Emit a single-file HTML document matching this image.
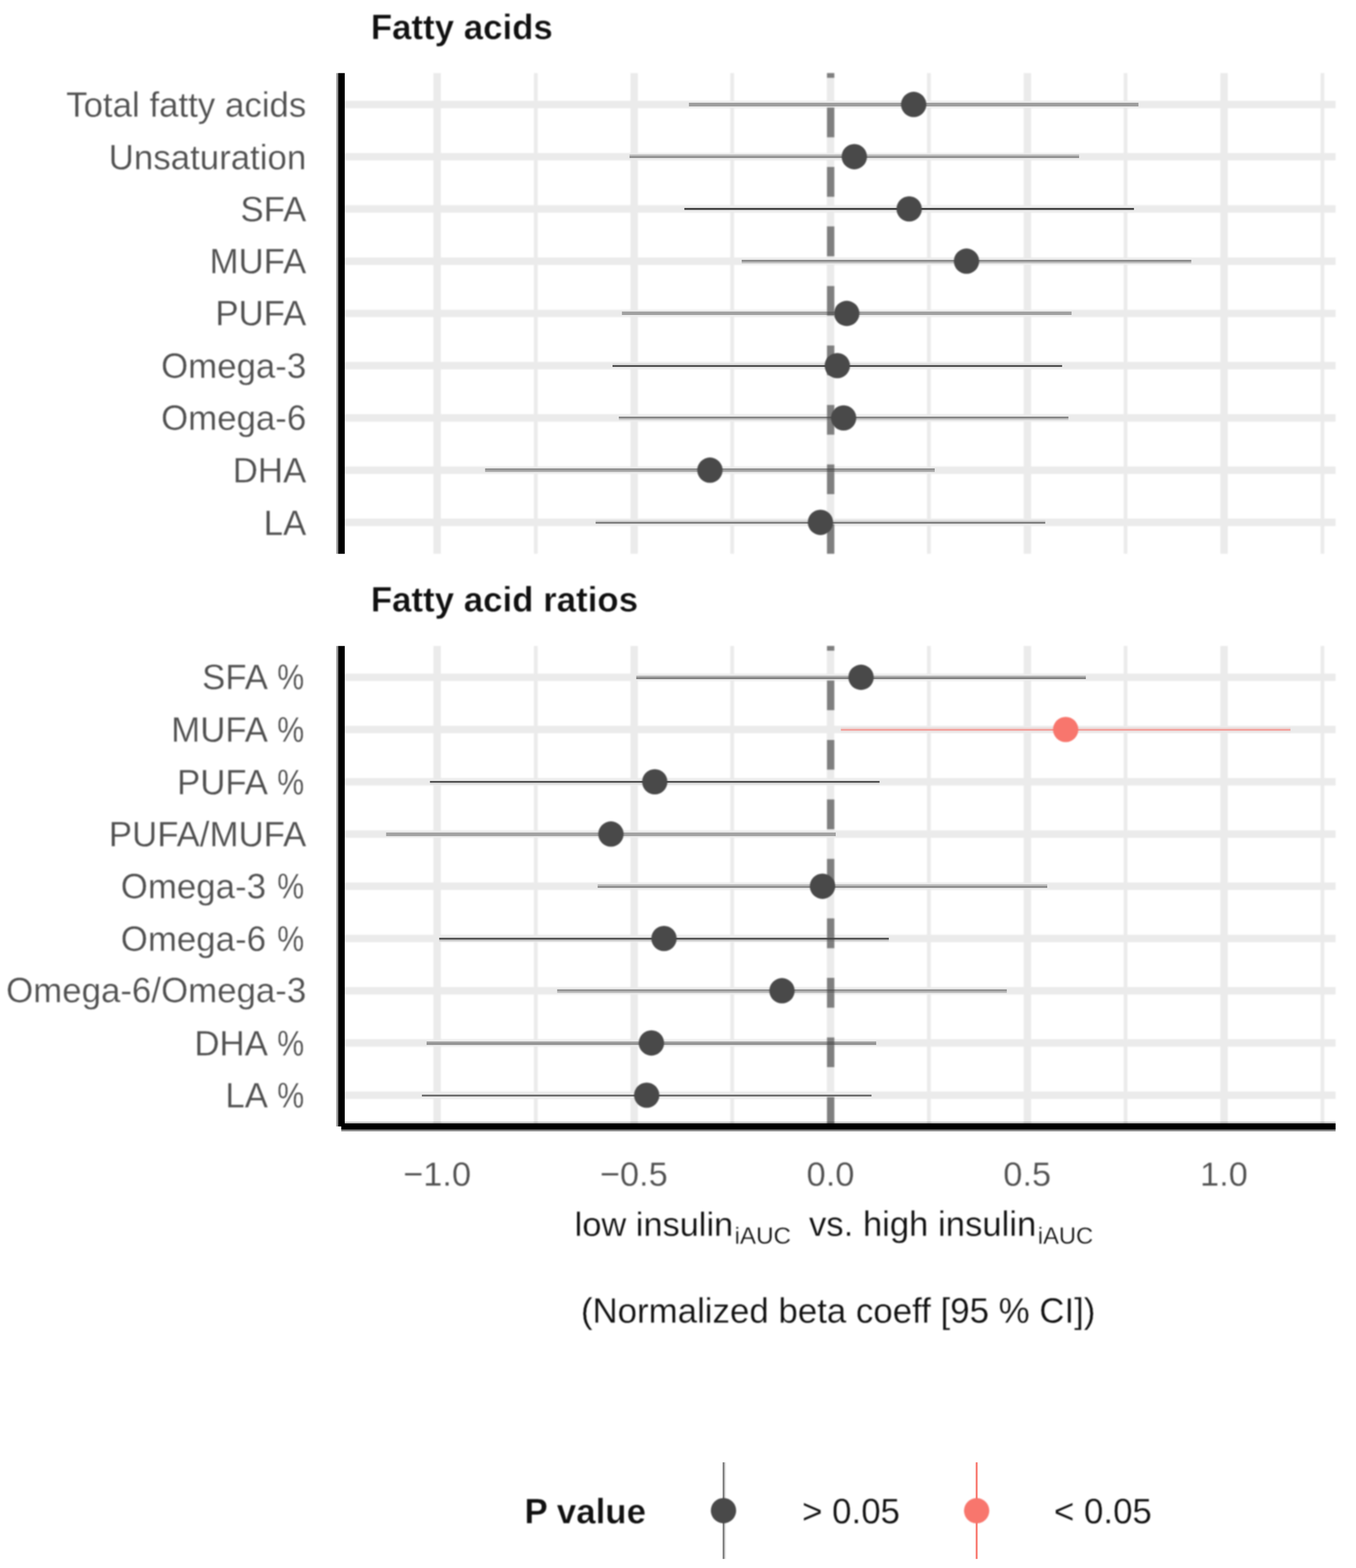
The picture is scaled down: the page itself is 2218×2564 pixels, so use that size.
<!DOCTYPE html>
<html lang="en"><head><meta charset="utf-8"><title>Fatty acids forest plot</title>
<style>html,body{margin:0;padding:0;background:#fff}body{width:2218px;height:2564px;overflow:hidden}svg{display:block}.soft{filter:blur(0.85px)}text{font-family:"Liberation Sans",sans-serif;white-space:pre;stroke:#fff;stroke-width:0.35;paint-order:fill stroke;stroke-linejoin:round}text[font-weight=bold]{stroke-width:0.5}</style>
</head><body>
<svg width="2218" height="2564" viewBox="0 0 2218 2564">
<rect width="2218" height="2564" fill="#fff"/>
<g class="soft">
<line x1="876.38" y1="119.5" x2="876.38" y2="905.4" stroke="#ebebeb" stroke-width="6.1"/>
<line x1="1197.62" y1="119.5" x2="1197.62" y2="905.4" stroke="#ebebeb" stroke-width="6.1"/>
<line x1="1519.38" y1="119.5" x2="1519.38" y2="905.4" stroke="#ebebeb" stroke-width="6.1"/>
<line x1="1841.12" y1="119.5" x2="1841.12" y2="905.4" stroke="#ebebeb" stroke-width="6.1"/>
<line x1="2163.18" y1="119.5" x2="2163.18" y2="905.4" stroke="#ebebeb" stroke-width="6.1"/>
<line x1="715" y1="119.5" x2="715" y2="905.4" stroke="#ebebeb" stroke-width="12.2"/>
<line x1="1037.25" y1="119.5" x2="1037.25" y2="905.4" stroke="#ebebeb" stroke-width="12.2"/>
<line x1="1358.5" y1="119.5" x2="1358.5" y2="905.4" stroke="#ebebeb" stroke-width="12.2"/>
<line x1="1680.55" y1="119.5" x2="1680.55" y2="905.4" stroke="#ebebeb" stroke-width="12.2"/>
<line x1="2002.2" y1="119.5" x2="2002.2" y2="905.4" stroke="#ebebeb" stroke-width="12.2"/>
<line x1="557.9" y1="170.8" x2="2184.7" y2="170.8" stroke="#ebebeb" stroke-width="12.2"/>
<line x1="557.9" y1="256.23" x2="2184.7" y2="256.23" stroke="#ebebeb" stroke-width="12.2"/>
<line x1="557.9" y1="341.65" x2="2184.7" y2="341.65" stroke="#ebebeb" stroke-width="12.2"/>
<line x1="557.9" y1="427.07" x2="2184.7" y2="427.07" stroke="#ebebeb" stroke-width="12.2"/>
<line x1="557.9" y1="512.5" x2="2184.7" y2="512.5" stroke="#ebebeb" stroke-width="12.2"/>
<line x1="557.9" y1="597.92" x2="2184.7" y2="597.92" stroke="#ebebeb" stroke-width="12.2"/>
<line x1="557.9" y1="683.35" x2="2184.7" y2="683.35" stroke="#ebebeb" stroke-width="12.2"/>
<line x1="557.9" y1="768.78" x2="2184.7" y2="768.78" stroke="#ebebeb" stroke-width="12.2"/>
<line x1="557.9" y1="854.2" x2="2184.7" y2="854.2" stroke="#ebebeb" stroke-width="12.2"/>
<line x1="1358.7" y1="905.4" x2="1358.7" y2="119.5" stroke="#7f7f7f" stroke-width="12.0" stroke-dasharray="48.64 48.64"/>
<line x1="876.38" y1="1056.3" x2="876.38" y2="1842.3" stroke="#ebebeb" stroke-width="6.1"/>
<line x1="1197.62" y1="1056.3" x2="1197.62" y2="1842.3" stroke="#ebebeb" stroke-width="6.1"/>
<line x1="1519.38" y1="1056.3" x2="1519.38" y2="1842.3" stroke="#ebebeb" stroke-width="6.1"/>
<line x1="1841.12" y1="1056.3" x2="1841.12" y2="1842.3" stroke="#ebebeb" stroke-width="6.1"/>
<line x1="2163.18" y1="1056.3" x2="2163.18" y2="1842.3" stroke="#ebebeb" stroke-width="6.1"/>
<line x1="715" y1="1056.3" x2="715" y2="1842.3" stroke="#ebebeb" stroke-width="12.2"/>
<line x1="1037.25" y1="1056.3" x2="1037.25" y2="1842.3" stroke="#ebebeb" stroke-width="12.2"/>
<line x1="1358.5" y1="1056.3" x2="1358.5" y2="1842.3" stroke="#ebebeb" stroke-width="12.2"/>
<line x1="1680.55" y1="1056.3" x2="1680.55" y2="1842.3" stroke="#ebebeb" stroke-width="12.2"/>
<line x1="2002.2" y1="1056.3" x2="2002.2" y2="1842.3" stroke="#ebebeb" stroke-width="12.2"/>
<line x1="557.9" y1="1107.5" x2="2184.7" y2="1107.5" stroke="#ebebeb" stroke-width="12.2"/>
<line x1="557.9" y1="1192.92" x2="2184.7" y2="1192.92" stroke="#ebebeb" stroke-width="12.2"/>
<line x1="557.9" y1="1278.35" x2="2184.7" y2="1278.35" stroke="#ebebeb" stroke-width="12.2"/>
<line x1="557.9" y1="1363.78" x2="2184.7" y2="1363.78" stroke="#ebebeb" stroke-width="12.2"/>
<line x1="557.9" y1="1449.2" x2="2184.7" y2="1449.2" stroke="#ebebeb" stroke-width="12.2"/>
<line x1="557.9" y1="1534.62" x2="2184.7" y2="1534.62" stroke="#ebebeb" stroke-width="12.2"/>
<line x1="557.9" y1="1620.05" x2="2184.7" y2="1620.05" stroke="#ebebeb" stroke-width="12.2"/>
<line x1="557.9" y1="1705.47" x2="2184.7" y2="1705.47" stroke="#ebebeb" stroke-width="12.2"/>
<line x1="557.9" y1="1790.9" x2="2184.7" y2="1790.9" stroke="#ebebeb" stroke-width="12.2"/>
<line x1="1358.7" y1="1842.3" x2="1358.7" y2="1056.3" stroke="#7f7f7f" stroke-width="12.0" stroke-dasharray="48.64 48.64"/>
</g>
<g>
<rect x="1126.8" y="168" width="735.4" height="3" fill="#444444" fill-opacity="0.46"/>
<rect x="1126.8" y="171" width="735.4" height="3" fill="#444444" fill-opacity="0.46"/>
<rect x="1029.7" y="252.6" width="735.4" height="2.8" fill="#444444" fill-opacity="0.29"/>
<rect x="1029.7" y="255.4" width="735.4" height="2.9" fill="#444444" fill-opacity="0.59"/>
<rect x="1119.4" y="340" width="735.4" height="3.3" fill="#444444"/>
<rect x="1213.2" y="424.9" width="735.4" height="2.9" fill="#444444" fill-opacity="0.59"/>
<rect x="1213.2" y="427.8" width="735.4" height="2.7" fill="#444444" fill-opacity="0.29"/>
<rect x="1017.3" y="509.5" width="735.4" height="2.8" fill="#444444" fill-opacity="0.46"/>
<rect x="1017.3" y="512.3" width="735.4" height="2.7" fill="#444444" fill-opacity="0.46"/>
<rect x="1001.9" y="594.2" width="735.4" height="2.8" fill="#444444" fill-opacity="0.08"/>
<rect x="1001.9" y="597" width="735.4" height="3" fill="#444444" fill-opacity="0.93"/>
<rect x="1012.2" y="681.3" width="735.4" height="2.9" fill="#444444" fill-opacity="0.63"/>
<rect x="1012.2" y="684.2" width="735.4" height="2.7" fill="#444444" fill-opacity="0.19"/>
<rect x="793.5" y="765.9" width="735.4" height="2.9" fill="#444444" fill-opacity="0.55"/>
<rect x="793.5" y="768.8" width="735.4" height="2.9" fill="#444444" fill-opacity="0.4"/>
<rect x="974.3" y="850.5" width="735.4" height="2.9" fill="#444444" fill-opacity="0.11"/>
<rect x="974.3" y="853.4" width="735.4" height="2.9" fill="#444444" fill-opacity="0.69"/>
<rect x="1040.7" y="1104.9" width="735.4" height="2.7" fill="#444444" fill-opacity="0.35"/>
<rect x="1040.7" y="1107.6" width="735.4" height="2.8" fill="#444444" fill-opacity="0.69"/>
<rect x="1375.4" y="1189" width="735.4" height="2.85" fill="#f8766d" fill-opacity="0.1"/>
<rect x="1375.4" y="1191.85" width="735.4" height="3.05" fill="#f8766d" fill-opacity="0.62"/>
<rect x="1375.4" y="1194.9" width="735.4" height="2.9" fill="#f8766d" fill-opacity="0.05"/>
<rect x="703.3" y="1277" width="735.4" height="2.9" fill="#444444" fill-opacity="0.93"/>
<rect x="703.3" y="1279.9" width="735.4" height="2.9" fill="#444444" fill-opacity="0.08"/>
<rect x="631.6" y="1361.4" width="735.4" height="2.9" fill="#444444" fill-opacity="0.45"/>
<rect x="631.6" y="1364.3" width="735.4" height="2.9" fill="#444444" fill-opacity="0.45"/>
<rect x="977.6" y="1446" width="735.4" height="2.9" fill="#444444" fill-opacity="0.29"/>
<rect x="977.6" y="1448.9" width="735.4" height="2.9" fill="#444444" fill-opacity="0.59"/>
<rect x="718.4" y="1533.5" width="735.4" height="2.9" fill="#444444" fill-opacity="0.98"/>
<rect x="718.4" y="1536.4" width="735.4" height="2.9" fill="#444444" fill-opacity="0.19"/>
<rect x="911.4" y="1617.8" width="735.4" height="2.9" fill="#444444" fill-opacity="0.55"/>
<rect x="911.4" y="1620.7" width="735.4" height="2.9" fill="#444444" fill-opacity="0.3"/>
<rect x="697.8" y="1703" width="735.4" height="2.9" fill="#444444" fill-opacity="0.45"/>
<rect x="697.8" y="1705.9" width="735.4" height="2.7" fill="#444444" fill-opacity="0.57"/>
<rect x="690.1" y="1789.9" width="735.4" height="3.1" fill="#444444" fill-opacity="0.74"/>
<rect x="1181.95" y="2391.2" width="3.11" height="158" fill="#444444" fill-opacity="0.66"/>
<rect x="1185.06" y="2391.2" width="2.24" height="158" fill="#444444" fill-opacity="0.18"/>
<rect x="1595.9" y="2391.2" width="3.2" height="158" fill="#f8766d" fill-opacity="0.95"/>
</g>
<g class="soft">
<circle cx="1494.5" cy="170.8" r="20.7" fill="#494949"/>
<circle cx="1397.4" cy="256.23" r="20.7" fill="#494949"/>
<circle cx="1487.1" cy="341.65" r="20.7" fill="#494949"/>
<circle cx="1580.9" cy="427.07" r="20.7" fill="#494949"/>
<circle cx="1385" cy="512.5" r="20.7" fill="#494949"/>
<circle cx="1369.6" cy="597.92" r="20.7" fill="#494949"/>
<circle cx="1379.9" cy="683.35" r="20.7" fill="#494949"/>
<circle cx="1161.2" cy="768.78" r="20.7" fill="#494949"/>
<circle cx="1342" cy="854.2" r="20.7" fill="#494949"/>
<circle cx="1408.4" cy="1107.5" r="20.7" fill="#494949"/>
<circle cx="1743.1" cy="1192.92" r="20.7" fill="#f8766d"/>
<circle cx="1071" cy="1278.35" r="20.7" fill="#494949"/>
<circle cx="999.3" cy="1363.78" r="20.7" fill="#494949"/>
<circle cx="1345.3" cy="1449.2" r="20.7" fill="#494949"/>
<circle cx="1086.1" cy="1534.62" r="20.7" fill="#494949"/>
<circle cx="1279.1" cy="1620.05" r="20.7" fill="#494949"/>
<circle cx="1065.5" cy="1705.47" r="20.7" fill="#494949"/>
<circle cx="1057.8" cy="1790.9" r="20.7" fill="#494949"/>
<circle cx="1183.4" cy="2470.2" r="20.7" fill="#494949"/>
<circle cx="1597.5" cy="2470.3" r="20.7" fill="#f8766d"/>
</g>
<g>
<rect x="550.1" y="119.5" width="3.1" height="786.1" fill="#000" fill-opacity="0.4"/>
<rect x="553.2" y="119.5" width="10.7" height="786.1" fill="#000"/>
<rect x="550.1" y="1056.3" width="3.1" height="785.7" fill="#000" fill-opacity="0.4"/>
<rect x="553.2" y="1056.3" width="10.7" height="785.7" fill="#000"/>
<rect x="558.2" y="1833.9" width="1626.4" height="3" fill="#000" fill-opacity="0.2"/>
<rect x="558.2" y="1836.9" width="1626.4" height="10.1" fill="#000"/>
<rect x="558.2" y="1847" width="1626.4" height="3" fill="#000" fill-opacity="0.47"/>
</g>
<g class="soft">
<text x="606.5" y="64.2" font-size="57" font-weight="bold" fill="#101010">Fatty acids</text>
<text x="501" y="191.3" font-size="57" fill="#505050" text-anchor="end">Total fatty acids</text>
<text x="501" y="276.73" font-size="57" fill="#505050" text-anchor="end">Unsaturation</text>
<text x="501" y="361.65" font-size="57" fill="#505050" text-anchor="end">SFA</text>
<text x="501" y="447.07" font-size="57" fill="#505050" text-anchor="end">MUFA</text>
<text x="501" y="532.2" font-size="57" fill="#505050" text-anchor="end">PUFA</text>
<text x="501" y="617.92" font-size="57" fill="#505050" text-anchor="end">Omega-3</text>
<text x="501" y="702.75" font-size="57" fill="#505050" text-anchor="end">Omega-6</text>
<text x="501" y="789.08" font-size="57" fill="#505050" text-anchor="end">DHA</text>
<text x="501" y="874.5" font-size="57" fill="#505050" text-anchor="end">LA</text>
<text x="606.5" y="1000.4" font-size="57" font-weight="bold" fill="#101010">Fatty acid ratios</text>
<text y="1127" font-size="57" fill="#505050"><tspan x="451" text-anchor="end">SFA </tspan><tspan x="453.6" text-anchor="start" textLength="44" lengthAdjust="spacingAndGlyphs">%</tspan></text>
<text y="1213.22" font-size="57" fill="#505050"><tspan x="451" text-anchor="end">MUFA </tspan><tspan x="453.6" text-anchor="start" textLength="44" lengthAdjust="spacingAndGlyphs">%</tspan></text>
<text y="1299.45" font-size="57" fill="#505050"><tspan x="451" text-anchor="end">PUFA </tspan><tspan x="453.6" text-anchor="start" textLength="44" lengthAdjust="spacingAndGlyphs">%</tspan></text>
<text x="501" y="1383.78" font-size="57" fill="#505050" text-anchor="end">PUFA/MUFA</text>
<text y="1469.2" font-size="57" fill="#505050"><tspan x="451" text-anchor="end">Omega-3 </tspan><tspan x="453.6" text-anchor="start" textLength="44" lengthAdjust="spacingAndGlyphs">%</tspan></text>
<text y="1554.92" font-size="57" fill="#505050"><tspan x="451" text-anchor="end">Omega-6 </tspan><tspan x="453.6" text-anchor="start" textLength="44" lengthAdjust="spacingAndGlyphs">%</tspan></text>
<text x="501" y="1639.35" font-size="57" fill="#505050" text-anchor="end">Omega-6/Omega-3</text>
<text y="1726.47" font-size="57" fill="#505050"><tspan x="451" text-anchor="end">DHA </tspan><tspan x="453.6" text-anchor="start" textLength="44" lengthAdjust="spacingAndGlyphs">%</tspan></text>
<text y="1810.9" font-size="57" fill="#505050"><tspan x="451" text-anchor="end">LA </tspan><tspan x="453.6" text-anchor="start" textLength="44" lengthAdjust="spacingAndGlyphs">%</tspan></text>
<text x="715" y="1938.8" font-size="56.3" fill="#505050" text-anchor="middle">−1.0</text>
<text x="1036.75" y="1938.8" font-size="56.3" fill="#505050" text-anchor="middle">−0.5</text>
<text x="1358.5" y="1938.8" font-size="56.3" fill="#505050" text-anchor="middle">0.0</text>
<text x="1680.25" y="1938.8" font-size="56.3" fill="#505050" text-anchor="middle">0.5</text>
<text x="2002" y="1938.8" font-size="56.3" fill="#505050" text-anchor="middle">1.0</text>
<text y="2021.3" fill="#101010"><tspan x="940" font-size="56.2">low insulin</tspan><tspan x="1201.6" font-size="39.5" dy="12.5">iAUC</tspan><tspan x="1307.5" dy="-12.5" font-size="56.7"> vs. high insulin</tspan><tspan x="1697.6" font-size="38.8" dy="12.5">iAUC</tspan></text>
<text x="1371" y="2163.2" font-size="57" fill="#101010" text-anchor="middle">(Normalized beta coeff [95 % CI])</text>
<text x="858" y="2490.5" font-size="57" font-weight="bold" fill="#101010">P value</text>
<text x="1312" y="2490.5" font-size="57" fill="#101010">&gt; 0.05</text>
<text x="1724" y="2490.5" font-size="57" fill="#101010">&lt; 0.05</text>
</g>
</svg></body></html>
